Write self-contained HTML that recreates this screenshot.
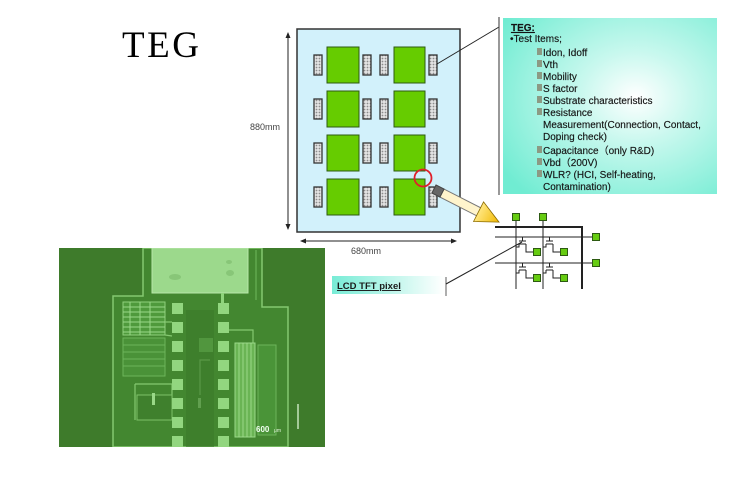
<!DOCTYPE html>
<html><head><meta charset="utf-8"><style>
html,body{margin:0;padding:0;background:#fff;}
svg{display:block;}
</style></head><body>
<svg width="756" height="484" viewBox="0 0 756 484" xmlns="http://www.w3.org/2000/svg">
<defs>
<pattern id="hatch" width="3" height="3" patternUnits="userSpaceOnUse">
<rect width="3" height="3" fill="#e4e4e4"/><circle cx="1.5" cy="1.5" r="0.9" fill="#8c8c8c"/>
</pattern>
<radialGradient id="tegbg" cx="0.62" cy="0.45" r="0.75">
<stop offset="0" stop-color="#ffffff"/><stop offset="0.35" stop-color="#c8f8ee"/><stop offset="1" stop-color="#70ecd2"/>
</radialGradient>
<linearGradient id="lcdbg" x1="0" y1="0" x2="1" y2="0">
<stop offset="0" stop-color="#78ecd6"/><stop offset="0.6" stop-color="#c8f7ee"/><stop offset="1" stop-color="#ffffff"/>
</linearGradient>
<linearGradient id="headg" x1="0" y1="0" x2="1" y2="0">
<stop offset="0" stop-color="#ffe680"/><stop offset="1" stop-color="#f0b800"/>
</linearGradient>
<marker id="ah" markerWidth="6" markerHeight="6" refX="5" refY="3" orient="auto-start-reverse" markerUnits="userSpaceOnUse">
<path d="M0,0.5 L6,3 L0,5.5 z" fill="#222"/>
</marker>
<clipPath id="photo"><rect x="59" y="248" width="266" height="199"/></clipPath>
</defs>

<!-- Title -->
<text x="122" y="57" font-family="Liberation Serif, serif" font-size="37" letter-spacing="2.5" fill="#000">TEG</text>

<!-- Panel -->
<rect x="297" y="29" width="163" height="203" fill="#d2f1fb" stroke="#333" stroke-width="1.5"/>
<g fill="#66cc00" stroke="#2d5a12" stroke-width="1">
<rect x="327" y="47" width="32" height="36"/><rect x="394" y="47" width="31" height="36"/>
<rect x="327" y="91" width="32" height="36"/><rect x="394" y="91" width="31" height="36"/>
<rect x="327" y="135" width="32" height="36"/><rect x="394" y="135" width="31" height="36"/>
<rect x="327" y="179" width="32" height="36"/><rect x="394" y="179" width="31" height="36"/>
</g>
<g fill="url(#hatch)" stroke="#333" stroke-width="1.3">
<rect x="314" y="55" width="8" height="20"/><rect x="363" y="55" width="8" height="20"/><rect x="380" y="55" width="8" height="20"/><rect x="429" y="55" width="8" height="20"/>
<rect x="314" y="99" width="8" height="20"/><rect x="363" y="99" width="8" height="20"/><rect x="380" y="99" width="8" height="20"/><rect x="429" y="99" width="8" height="20"/>
<rect x="314" y="143" width="8" height="20"/><rect x="363" y="143" width="8" height="20"/><rect x="380" y="143" width="8" height="20"/><rect x="429" y="143" width="8" height="20"/>
<rect x="314" y="187" width="8" height="20"/><rect x="363" y="187" width="8" height="20"/><rect x="380" y="187" width="8" height="20"/><rect x="429" y="187" width="8" height="20"/>
</g>

<!-- dimension arrows -->
<line x1="288" y1="33" x2="288" y2="229" stroke="#222" stroke-width="1" marker-start="url(#ah)" marker-end="url(#ah)"/>
<text x="250" y="130" font-family="Liberation Sans, sans-serif" font-size="9" fill="#444">880mm</text>
<line x1="301" y1="241" x2="456" y2="241" stroke="#222" stroke-width="1" marker-start="url(#ah)" marker-end="url(#ah)"/>
<text x="351" y="254" font-family="Liberation Sans, sans-serif" font-size="9" fill="#444">680mm</text>

<!-- leader line to TEG box -->
<line x1="437" y1="64" x2="499" y2="27" stroke="#222" stroke-width="1"/>
<line x1="499" y1="17" x2="499" y2="195" stroke="#555" stroke-width="1.2"/>

<!-- TEG box -->
<rect x="503" y="18" width="214" height="176" fill="url(#tegbg)"/>
<g font-family="Liberation Sans, sans-serif" font-size="10" fill="#151515" stroke="#151515" stroke-width="0.15">
<text x="511" y="31" font-weight="bold" text-decoration="underline">TEG:</text>
<text x="510" y="42">•Test Items;</text>
<g fill="#8c9a84" stroke="none">
<rect x="537" y="48" width="5" height="7"/><rect x="537" y="60" width="5" height="7"/><rect x="537" y="72" width="5" height="7"/>
<rect x="537" y="84" width="5" height="7"/><rect x="537" y="96" width="5" height="7"/><rect x="537" y="108" width="5" height="7"/>
<rect x="537" y="146" width="5" height="7"/><rect x="537" y="158" width="5" height="7"/><rect x="537" y="170" width="5" height="7"/>
</g>
<text x="543" y="56">Idon, Idoff</text>
<text x="543" y="68">Vth</text>
<text x="543" y="80">Mobility</text>
<text x="543" y="92">S factor</text>
<text x="543" y="104">Substrate characteristics</text>
<text x="543" y="116">Resistance</text>
<text x="543" y="128">Measurement(Connection, Contact,</text>
<text x="543" y="140">Doping check)</text>
<text x="543" y="154">Capacitance（only R&amp;D)</text>
<text x="543" y="166">Vbd（200V)</text>
<text x="543" y="178">WLR? (HCI, Self-heating,</text>
<text x="543" y="190">Contamination)</text>
</g>

<!-- red circle -->
<circle cx="423" cy="178" r="8.5" fill="none" stroke="#e0202a" stroke-width="1.8"/>

<!-- yellow arrow -->
<g transform="translate(434,189) rotate(27)">
<rect x="0" y="-4.5" width="52" height="9" fill="#fff4cc" stroke="#777" stroke-width="1"/>
<rect x="0" y="-4.5" width="9" height="9" fill="#666" stroke="#444" stroke-width="1"/>
<path d="M50,-11 L73,0 L50,11 z" fill="url(#headg)" stroke="#8a6a00" stroke-width="0.8"/>
</g>

<!-- pixel grid -->
<g stroke="#222" fill="none">
<line x1="495" y1="227" x2="583" y2="227" stroke-width="2"/>
<line x1="582" y1="227" x2="582" y2="289" stroke-width="2"/>
<line x1="495" y1="237" x2="593" y2="237" stroke-width="1"/>
<line x1="495" y1="263" x2="593" y2="263" stroke-width="1"/>
<line x1="516" y1="220" x2="516" y2="289" stroke-width="1"/>
<line x1="543" y1="220" x2="543" y2="289" stroke-width="1"/>
<g stroke-width="1">
<path d="M519,241 L526,241 M522.5,237 L522.5,241 M519,244 L526,244 M516,247 L519,247 L519,244 M526,244 L526,252 L533,252"/>
<path d="M546,241 L553,241 M549.5,237 L549.5,241 M546,244 L553,244 M543,247 L546,247 L546,244 M553,244 L553,252 L560,252"/>
<path d="M519,267 L526,267 M522.5,263 L522.5,267 M519,270 L526,270 M516,273 L519,273 L519,270 M526,270 L526,278 L533,278"/>
<path d="M546,267 L553,267 M549.5,263 L549.5,267 M546,270 L553,270 M543,273 L546,273 L546,270 M553,270 L553,278 L560,278"/>
</g>
</g>
<g fill="#66cc11" stroke="#2d5a12" stroke-width="1">
<rect x="512.5" y="213.5" width="7" height="7"/><rect x="539.5" y="213.5" width="7" height="7"/>
<rect x="592.5" y="233.5" width="7" height="7"/><rect x="592.5" y="259.5" width="7" height="7"/>
<rect x="533.5" y="248.5" width="7" height="7"/><rect x="560.5" y="248.5" width="7" height="7"/>
<rect x="533.5" y="274.5" width="7" height="7"/><rect x="560.5" y="274.5" width="7" height="7"/>
</g>

<!-- LCD TFT pixel label -->
<rect x="332" y="276" width="112" height="18" fill="url(#lcdbg)"/>
<text x="337" y="289" font-family="Liberation Sans, sans-serif" font-size="9.5" font-weight="bold" text-decoration="underline" fill="#1a1a1a">LCD TFT pixel</text>
<line x1="446" y1="277" x2="446" y2="296" stroke="#777" stroke-width="1.2"/>
<line x1="446" y1="284" x2="522" y2="242" stroke="#222" stroke-width="1"/>

<!-- photo -->
<g clip-path="url(#photo)">
<rect x="59" y="248" width="266" height="199" fill="#3e7b2b"/>
<polygon points="143,248 262,248 262,307 288,307 288,447 113,447 113,296 143,296" fill="#438730" stroke="#84c870" stroke-width="1.5"/>
<rect x="152" y="248" width="96" height="45" fill="#9cd98c" stroke="#b8e8aa" stroke-width="1"/>
<ellipse cx="175" cy="277" rx="6" ry="3" fill="#88c678"/>
<ellipse cx="230" cy="273" rx="4" ry="3" fill="#88c678"/>
<ellipse cx="229" cy="262" rx="3" ry="2" fill="#88c678"/>
<rect x="221" y="293" width="3" height="10" fill="#8fd47c"/>
<line x1="256" y1="250" x2="256" y2="300" stroke="#6fb85c" stroke-width="1"/>
<!-- grid left -->
<rect x="123" y="302" width="42" height="33" fill="#4f9a3c" stroke="#8fd07c" stroke-width="1"/>
<g stroke="#9ad888" stroke-width="1">
<line x1="123" y1="307" x2="165" y2="307"/><line x1="123" y1="312" x2="165" y2="312"/><line x1="123" y1="317" x2="165" y2="317"/>
<line x1="123" y1="322" x2="165" y2="322"/><line x1="123" y1="327" x2="165" y2="327"/><line x1="123" y1="332" x2="165" y2="332"/>
<line x1="130" y1="302" x2="130" y2="335"/><line x1="140" y1="302" x2="140" y2="335"/><line x1="150" y1="302" x2="150" y2="335"/>
</g>
<rect x="123" y="338" width="42" height="38" fill="#4a9238" stroke="#6cb45a" stroke-width="1"/>
<g stroke="#6cb45a" stroke-width="1">
<line x1="123" y1="345" x2="165" y2="345"/><line x1="123" y1="352" x2="165" y2="352"/><line x1="123" y1="359" x2="165" y2="359"/><line x1="123" y1="366" x2="165" y2="366"/>
</g>
<path d="M165,322 L172,322 M165,335 L172,336 M135,384 L172,384 L172,398 M135,384 L135,420 M210,360 L200,360 L200,395 M229,330 L253,330 L253,343" stroke="#84c870" stroke-width="1.2" fill="none"/>
<rect x="137" y="395" width="35" height="25" fill="#3f802d" stroke="#7cc068" stroke-width="1"/>
<rect x="152" y="393" width="3" height="12" fill="#9ad888"/>
<rect x="198" y="398" width="3" height="10" fill="#9ad888"/>
<g fill="#92d67f">
<rect x="172" y="303" width="11" height="11"/><rect x="172" y="322" width="11" height="11"/><rect x="172" y="341" width="11" height="11"/><rect x="172" y="360" width="11" height="11"/>
<rect x="172" y="379" width="11" height="11"/><rect x="172" y="398" width="11" height="11"/><rect x="172" y="417" width="11" height="11"/><rect x="172" y="436" width="11" height="11"/>
<rect x="218" y="303" width="11" height="11"/><rect x="218" y="322" width="11" height="11"/><rect x="218" y="341" width="11" height="11"/><rect x="218" y="360" width="11" height="11"/>
<rect x="218" y="379" width="11" height="11"/><rect x="218" y="398" width="11" height="11"/><rect x="218" y="417" width="11" height="11"/><rect x="218" y="436" width="11" height="11"/>
</g>
<rect x="186" y="310" width="28" height="137" fill="#3c7a2a" opacity="0.6"/>
<rect x="199" y="338" width="14" height="14" fill="#5aa046" opacity="0.7"/>
<rect x="235" y="343" width="20" height="94" fill="#6ab454" stroke="#9ad888" stroke-width="1"/>
<g stroke="#a6e094" stroke-width="0.8">
<line x1="239" y1="343" x2="239" y2="437"/><line x1="243" y1="343" x2="243" y2="437"/><line x1="247" y1="343" x2="247" y2="437"/><line x1="251" y1="343" x2="251" y2="437"/>
</g>
<rect x="258" y="345" width="18" height="90" fill="#4a9438" stroke="#6cb45a" stroke-width="1"/>
<line x1="298" y1="404" x2="298" y2="429" stroke="#e8ffe0" stroke-width="1.2"/>
<text x="256" y="432" font-family="Liberation Sans, sans-serif" font-size="8" font-weight="bold" fill="#f0fff0">600</text>
<text x="274" y="432" font-family="Liberation Sans, sans-serif" font-size="5" fill="#e0f5d8">μm</text>
</g>
</svg>
</body></html>
